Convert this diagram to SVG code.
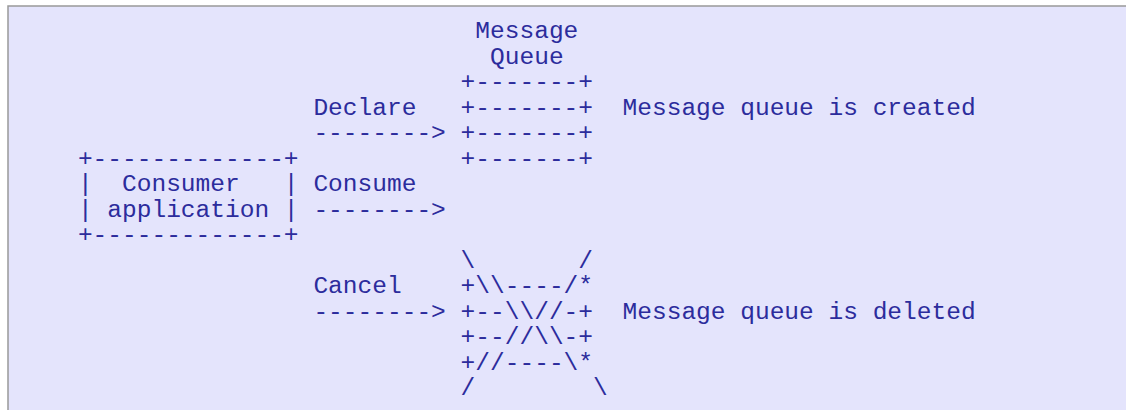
<svg xmlns="http://www.w3.org/2000/svg" width="1126" height="410" viewBox="0 0 1126 410">
<style>
text{font-family:"Liberation Mono","Courier New",monospace;font-size:24.53px;fill:#2c2c9c;white-space:pre}
</style>
<rect x="0" y="0" width="1126" height="410" fill="#ffffff"/>
<rect x="8" y="6" width="1130" height="420" fill="#e4e4fc" stroke="#999999" stroke-width="1.5"/>
<g id="queue-created">
<text x="475.34" y="38">Message</text>
<text x="490.06" y="63.5">Queue</text>
<text x="460.62" y="89">+-------+</text>
<text x="460.62" y="114.5">+-------+</text>
<text x="460.62" y="140">+-------+</text>
<text x="460.62" y="165.5">+-------+</text>
<text x="622.54" y="114.5">Message queue is created</text>
</g>
<g id="consumer">
<text x="77.9" y="165.5">+-------------+</text>
<text x="77.9" y="191">|  Consumer   |</text>
<text x="77.9" y="216.5">| application |</text>
<text x="77.9" y="242">+-------------+</text>
</g>
<g id="queue-deleted">
<text x="460.62" y="267.5">\       /</text>
<text x="460.62" y="293">+\\----/*</text>
<text x="460.62" y="318.5">+--\\//-+</text>
<text x="460.62" y="344">+--//\\-+</text>
<text x="460.62" y="369.5">+//----\*</text>
<text x="460.62" y="395">/        \</text>
<text x="622.54" y="318.5">Message queue is deleted</text>
</g>
<g id="connectors">
<text x="313.42" y="114.5">Declare</text>
<text x="313.42" y="140">--------&gt;</text>
<text x="313.42" y="191">Consume</text>
<text x="313.42" y="216.5">--------&gt;</text>
<text x="313.42" y="293">Cancel</text>
<text x="313.42" y="318.5">--------&gt;</text>
</g>
</svg>
